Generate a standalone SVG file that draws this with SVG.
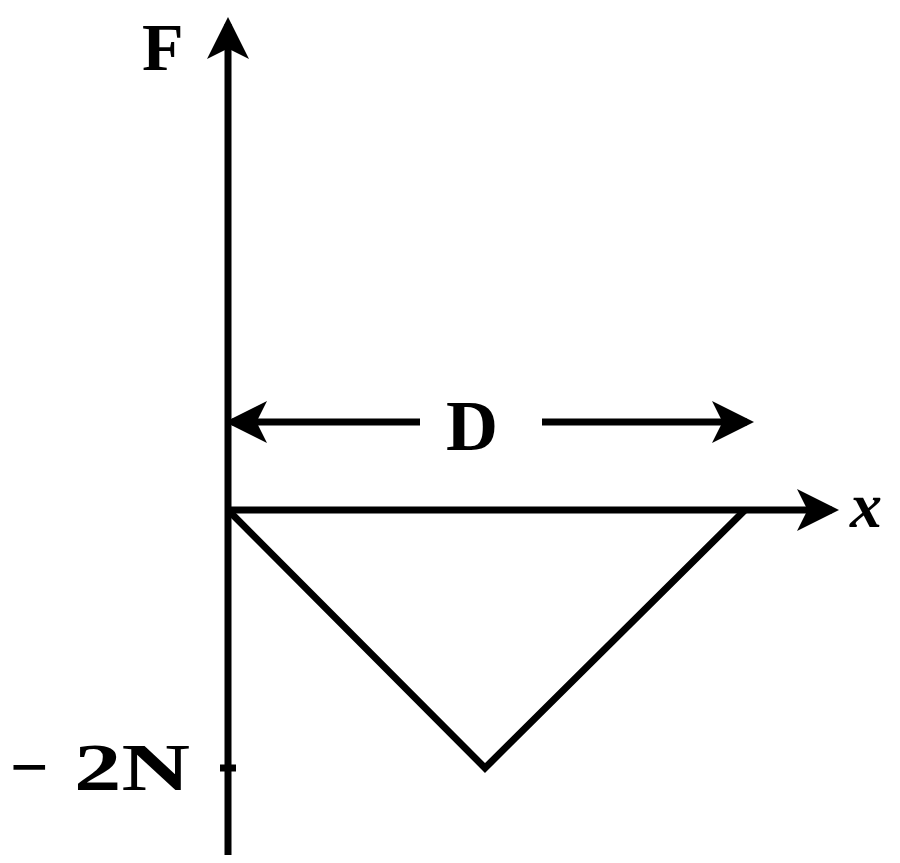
<svg xmlns="http://www.w3.org/2000/svg" width="900" height="863" viewBox="0 0 900 863">
<style>
.l{stroke:#000;stroke-width:7;fill:none}
.t{font-family:"Liberation Serif",serif;fill:#000;font-weight:bold}
</style>
<defs>
<marker id="a" markerWidth="6" markerHeight="6" refX="5" refY="3" orient="auto" markerUnits="strokeWidth">
<path d="M0,0 L6,3 L0,6 L1.5,3 Z" fill="#000"/>
</marker>
</defs>
<rect width="900" height="863" fill="#fff"/>
<g id="connectors">
<line class="l" x1="228" y1="855" x2="228" y2="24" marker-end="url(#a)"/>
<line class="l" x1="228" y1="510" x2="832" y2="510" marker-end="url(#a)"/>
<line class="l" x1="420" y1="422" x2="232" y2="422" marker-end="url(#a)"/>
<line class="l" x1="542" y1="422" x2="747" y2="422" marker-end="url(#a)"/>
<polyline class="l" points="228,510 485,768 745,510"/>
<line class="l" x1="220" y1="768" x2="236" y2="768"/>
</g>
<g id="labels">
<text class="t" x="142" y="70" font-size="68">F</text>
<text class="t" x="446" y="450" font-size="72">D</text>
<text class="t" x="850" y="527" font-size="64" font-style="italic">x</text>
<text class="t" x="10" y="790" font-size="68">−<tspan x="74" textLength="116" lengthAdjust="spacingAndGlyphs">2N</tspan></text>
</g>
</svg>
